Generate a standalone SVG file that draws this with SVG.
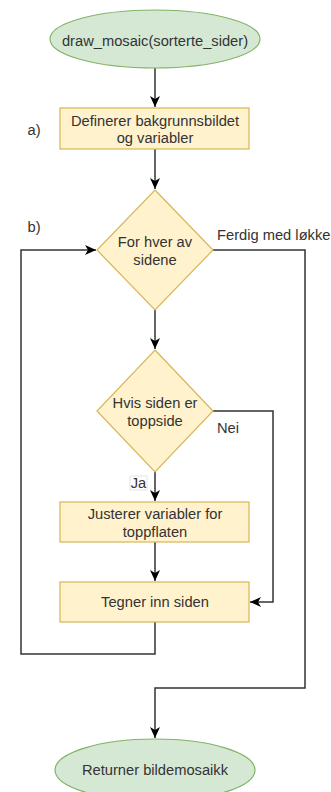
<svg xmlns="http://www.w3.org/2000/svg" width="331" height="792" viewBox="0 0 331 792">
<style>
.t{font-family:"Liberation Sans",Arial,sans-serif;font-size:14.7px;fill:#333333;text-anchor:middle;dominant-baseline:central}
.lt{text-anchor:start}
.g{fill:#d5e8d4;stroke:#82b366;stroke-width:1.2}
.y{fill:#fff2cc;stroke:#d6b656;stroke-width:1.2}
.c{fill:none;stroke:#333333;stroke-width:1.5}
</style>
<defs>
<marker id="a" viewBox="0 0 12 12" refX="11" refY="6" markerWidth="12" markerHeight="12" orient="auto" markerUnits="userSpaceOnUse">
<path d="M0,1 L11,6 L0,11 L3,6 Z" fill="#000"/>
</marker>
</defs>
<rect width="331" height="792" fill="#ffffff"/>
<g id="connectors">
<path class="c" d="M155,68 V107" marker-end="url(#a)"/>
<path class="c" d="M155,149 V189" marker-end="url(#a)"/>
<path class="c" d="M155,310 V349" marker-end="url(#a)"/>
<path class="c" d="M155,471 V501" marker-end="url(#a)"/>
<path class="c" d="M155,542 V581" marker-end="url(#a)"/>
<path class="c" d="M213,411 H273 V602 H250" marker-end="url(#a)"/>
<path class="c" d="M155,622 V654 H21 V250 H96" marker-end="url(#a)"/>
<path class="c" d="M213,250 H305 V688 H155 V738" marker-end="url(#a)"/>
</g>
<g id="start">
<ellipse class="g" cx="155" cy="39" rx="105" ry="29"/>
<text class="t" x="155" y="41">draw_mosaic(sorterte_sider)</text>
</g>
<g id="define">
<rect class="y" x="60" y="108" width="189" height="41"/>
<text class="t" x="155" y="121">Definerer bakgrunnsbildet</text>
<text class="t" x="155" y="138">og variabler</text>
</g>
<text class="t" x="34" y="130">a)</text>
<text class="t" x="34" y="227">b)</text>
<g id="loop">
<polygon class="y" points="155,190 213,250 155,310 97,250"/>
<text class="t" x="155" y="242">For hver av</text>
<text class="t" x="155" y="260">sidene</text>
</g>
<text class="t lt" x="217" y="235">Ferdig med løkke</text>
<g id="check">
<polygon class="y" points="155,350 213,411 155,472 97,411"/>
<text class="t" x="155" y="403">Hvis siden er</text>
<text class="t" x="155" y="421">toppside</text>
</g>
<text class="t lt" x="217" y="428">Nei</text>
<g id="jalabel">
<rect x="130" y="476" width="17" height="14" fill="#ffffff" stroke="#dddddd" stroke-width="0.8"/>
<text class="t" x="138.5" y="483">Ja</text>
</g>
<g id="adjust">
<rect class="y" x="60" y="502" width="189" height="40"/>
<text class="t" x="155" y="514">Justerer variabler for</text>
<text class="t" x="155" y="532">toppflaten</text>
</g>
<g id="draw">
<rect class="y" x="60" y="582" width="189" height="40"/>
<text class="t" x="155" y="602">Tegner inn siden</text>
</g>
<g id="end">
<ellipse class="g" cx="155" cy="770" rx="100" ry="31"/>
<text class="t" x="155" y="770">Returner bildemosaikk</text>
</g>
</svg>
